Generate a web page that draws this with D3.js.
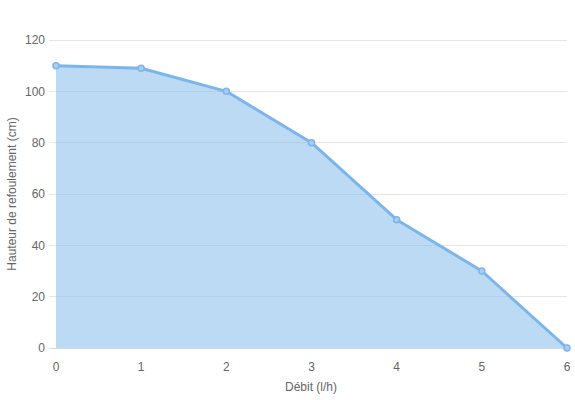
<!DOCTYPE html>
<html><head><meta charset="utf-8">
<script src="https://cdn.jsdelivr.net/npm/d3@7"></script>
<style>body{margin:0;background:#fff;}svg{display:block;font-family:"Liberation Sans",Arial,sans-serif;}</style>
</head><body><svg id="c" width="575" height="400"></svg>
<script>
const debit = [0, 1, 2, 3, 4, 5, 6];
const hauteur = [110, 109, 100, 80, 50, 30, 0];
const yTicks = [0, 20, 40, 60, 80, 100, 120];
const xTitle = "Débit (l/h)";
const yTitle = "Hauteur de refoulement (cm)";

const svg = d3.select("#c");
const x = d3.scaleLinear().domain([0, 6]).range([56, 567]);
const y = d3.scaleLinear().domain([0, 120]).range([348, 40]);

const grid = svg.append("g");
grid.selectAll("line").data(yTicks).join("line")
  .attr("x1", 49).attr("x2", 567)
  .attr("y1", d => y(d)).attr("y2", d => y(d))
  .attr("stroke", d => d === 0 ? "#d8d8d8" : "#e6e6e6").attr("stroke-width", 1)
  .attr("shape-rendering", "crispEdges");

grid.selectAll("text").data(yTicks).join("text")
  .attr("x", 45).attr("y", d => y(d)).attr("dy", "0.35em")
  .attr("text-anchor", "end").attr("fill", "#666").attr("font-size", 12)
  .text(d => d);

svg.append("g").selectAll("text").data(debit).join("text")
  .attr("x", d => x(d)).attr("y", 371).attr("text-anchor", "middle")
  .attr("fill", "#666").attr("font-size", 12).text(d => d);

const pts = debit.map((d, i) => [d, hauteur[i]]);
const area = d3.area().x(d => x(d[0])).y0(y(0)).y1(d => y(d[1]));
const line = d3.line().x(d => x(d[0])).y(d => y(d[1]));

svg.append("path").datum(pts).attr("d", area).attr("fill", "rgba(124,181,236,0.5)");
svg.append("path").datum(pts).attr("d", line).attr("fill", "none")
  .attr("stroke", "#7cb5ec").attr("stroke-width", 3).attr("stroke-linejoin", "round");
svg.append("g").selectAll("circle").data(pts).join("circle")
  .attr("cx", d => x(d[0])).attr("cy", d => y(d[1])).attr("r", 3)
  .attr("fill", "#a9cdf2").attr("stroke", "#7cb5ec").attr("stroke-width", 1.5);

svg.append("text").attr("x", 311).attr("y", 391).attr("text-anchor", "middle")
  .attr("fill", "#666").attr("font-size", 12).text(xTitle);
svg.append("text").attr("transform", "translate(16,194) rotate(-90)")
  .attr("text-anchor", "middle").attr("fill", "#666").attr("font-size", 12).text(yTitle);
</script></body></html>
